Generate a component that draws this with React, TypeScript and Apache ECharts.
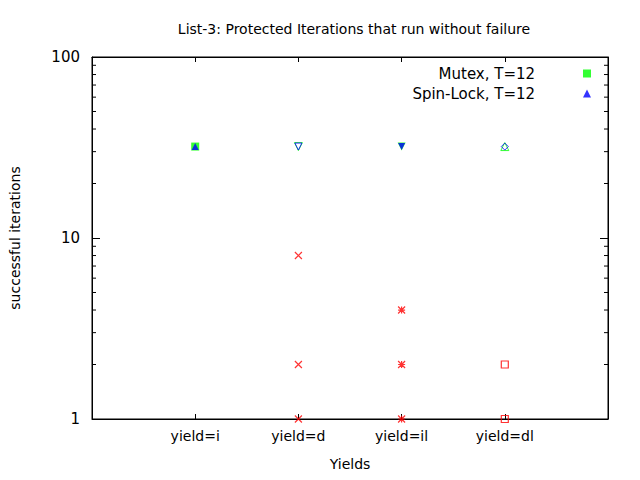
import React, { useEffect, useRef } from 'react';
import * as echarts from 'echarts';

const yields = ['yield=i', 'yield=d', 'yield=il', 'yield=dl'];
const mutexVals = [32, 32, 32, 32];
const spinVals = [32, 32, 32, 32];
const mutexSymbols = ['rect', 'tri-down-open', 'tri-down', 'tri-up-open'];
const spinSymbols = ['tri-up', 'tri-down-open', 'tri-down', 'diamond-open'];
const redD = [8, 2, 1];
const redIl = [4, 2, 1];
const redDl = [2, 1];
const minorTicks = [2, 3, 4, 5, 6, 7, 8, 9, 20, 30, 40, 50, 60, 70, 80, 90];

const FONT = 'DejaVu Sans';
const CROSS = 'path://M0,0L10,10M10,0L0,10';
const STAR = 'path://M0,0L10,10M10,0L0,10M5,0L5,10M0,5L10,5';

function styled(kind: string, color: string, i: number) {
  const base: any = { value: [i, 0] };
  const open = kind.endsWith('-open');
  const name = kind.replace('-open', '');
  if (name === 'rect') base.symbol = 'rect';
  if (name === 'tri-up') base.symbol = 'triangle';
  if (name === 'tri-down') { base.symbol = 'triangle'; base.symbolRotate = 180; }
  if (name === 'diamond') base.symbol = 'diamond';
  base.itemStyle = open
    ? { color: 'none', borderColor: color, borderWidth: 1 }
    : { color, borderWidth: 0 };
  return base;
}

export default function App() {
  const ref = useRef<HTMLDivElement>(null);

  useEffect(() => {
    if (!ref.current) return;
    const chart = echarts.init(ref.current, null, { renderer: 'svg' });

    const pts = (vals: number[], syms: string[], color: string) =>
      vals.map((v, i) => {
        const d = styled(syms[i], color, i);
        d.value = [i, v];
        return d;
      });
    const red = (x: number, vals: number[], symbol: string) => ({
      type: 'scatter',
      symbol,
      symbolSize: 7,
      data: vals.map((v) => [x, v]),
      itemStyle: { color: 'none', borderColor: '#ff0000', borderWidth: 1.2 },
      z: 3,
    });

    const option = {
      animation: false,
      textStyle: { fontFamily: FONT },
      title: {
        text: 'List-3: Protected Iterations that run without failure',
        left: 349, top: 17, textAlign: 'center',
        textStyle: { fontFamily: FONT, fontSize: 14, fontWeight: 'normal', color: '#000' },
      },
      legend: {
        orient: 'vertical', right: 44, top: 61, align: 'right', itemGap: 5,
        itemWidth: 8, itemHeight: 8,
        formatter: (n: string) => n + '         ',
        textStyle: { fontFamily: FONT, fontSize: 15, color: '#000' },
        data: [
          { name: 'Mutex, T=12', icon: 'rect', itemStyle: { color: '#00ff00' } },
          { name: 'Spin-Lock, T=12', icon: 'triangle', itemStyle: { color: '#0000ff' } },
        ],
      },
      grid: { left: 90, right: 32, top: 57, bottom: 61, show: true, borderColor: '#000', borderWidth: 1 },
      xAxis: [
        {
          type: 'value', min: -1, max: 4, interval: 1,
          name: 'Yields', nameLocation: 'middle', nameGap: 38,
          nameTextStyle: { fontFamily: FONT, fontSize: 14, color: '#000' },
          axisLine: { onZero: false, lineStyle: { color: '#000' } },
          axisTick: { inside: true, length: 5, lineStyle: { color: '#000' } },
          splitLine: { show: false },
          axisLabel: {
            fontFamily: FONT, fontSize: 14, color: '#000', margin: 10,
            formatter: (v: number) => yields[v] ?? '',
          },
        },
        {
          type: 'value', min: -1, max: 4, interval: 1, position: 'top',
          axisLine: { onZero: false, lineStyle: { color: '#000' } },
          axisTick: { inside: true, length: 5, lineStyle: { color: '#000' } },
          splitLine: { show: false }, axisLabel: { show: false },
        },
      ],
      yAxis: [
        {
          type: 'log', logBase: 10, min: 1, max: 100,
          name: 'successful iterations', nameLocation: 'middle', nameGap: 70,
          nameTextStyle: { fontFamily: FONT, fontSize: 14, color: '#000' },
          axisLine: { onZero: false, lineStyle: { color: '#000' } },
          axisTick: { inside: true, length: 8, lineStyle: { color: '#000' } },
          splitLine: { show: false },
          axisLabel: { fontFamily: FONT, fontSize: 15, color: '#000', margin: 12 },
        },
        {
          type: 'log', logBase: 10, min: 1, max: 100, position: 'right',
          axisLine: { onZero: false, lineStyle: { color: '#000' } },
          axisTick: { inside: true, length: 8, lineStyle: { color: '#000' } },
          splitLine: { show: false }, axisLabel: { show: false },
        },
      ],
      series: [
        {
          type: 'custom', silent: true, clip: false, data: minorTicks,
          renderItem: (_p: any, api: any) => {
            const v = api.value(0);
            const l = api.coord([-1, v]);
            const r = api.coord([4, v]);
            const s = { stroke: '#000', lineWidth: 1 };
            return {
              type: 'group',
              children: [
                { type: 'line', shape: { x1: l[0], y1: l[1], x2: l[0] + 4, y2: l[1] }, style: s },
                { type: 'line', shape: { x1: r[0], y1: r[1], x2: r[0] - 4, y2: r[1] }, style: s },
              ],
            };
          },
          encode: { y: 0 },
        },
        red(1, redD, CROSS),
        red(2, redIl, STAR),
        red(3, redDl, 'rect'),
        {
          name: 'Mutex, T=12', type: 'scatter', symbolSize: 8, z: 4,
          itemStyle: { color: '#00ff00' },
          data: pts(mutexVals, mutexSymbols, '#00ff00'),
        },
        {
          name: 'Spin-Lock, T=12', type: 'scatter', symbolSize: 7, z: 5,
          itemStyle: { color: '#0000ff' },
          data: pts(spinVals, spinSymbols, '#0000ff'),
        },
      ],
    };

    chart.setOption(option);
    return () => chart.dispose();
  }, []);

  return <div ref={ref} style={{ width: 640, height: 480, margin: -8 }} />;
}
